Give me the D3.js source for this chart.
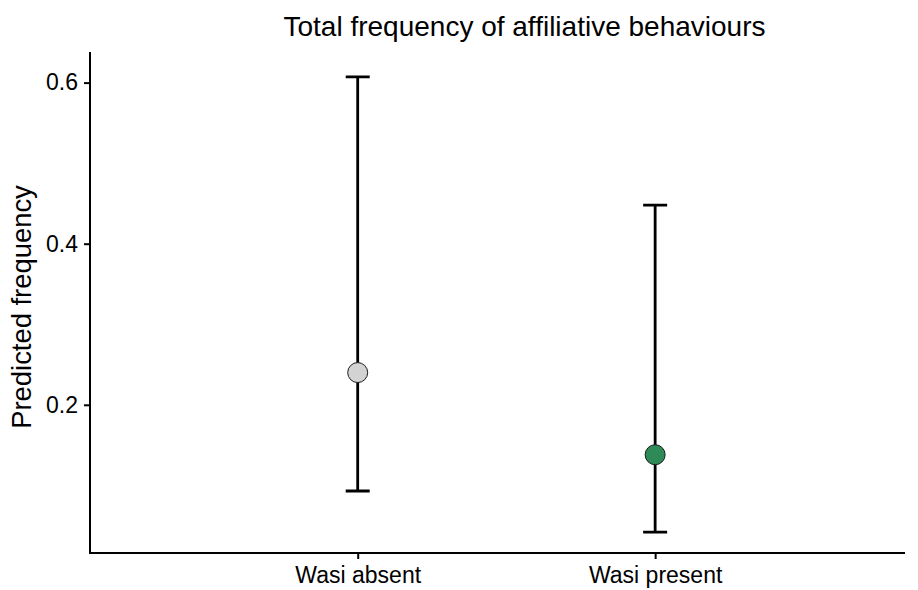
<!DOCTYPE html>
<html>
<head>
<meta charset="utf-8">
<script src="https://cdn.jsdelivr.net/npm/d3@7"></script>
<style>
  body { margin: 0; background: #fff; }
  svg { font-family: "Liberation Sans", Arial, sans-serif; }
</style>
</head>
<body>
<div id="chart"></div>
<script>
// data
const categories = ["Wasi absent", "Wasi present"]
const predicted = [0.240, 0.138]
const lower = [0.093, 0.042]
const upper = [0.607, 0.448]
const fills = ["#d3d3d3", "#2e8b57"]
const yTicks = [0.2, 0.4, 0.6]

const W = 918, H = 590
const margin = {top: 52, right: 13, bottom: 37, left: 90}
const width = W - margin.left - margin.right,
      height = H - margin.top - margin.bottom

const svg = d3.select("#chart")
  .append("svg")
    .attr("width", W)
    .attr("height", H)

const g = svg.append("g")
    .attr("transform", `translate(${margin.left},${margin.top})`)

// x is positional index of each category
const x = d3.scaleLinear()
  .domain([-0.9, 1.84])
  .range([0, width])

const y = d3.scaleLinear()
  .domain([0.016, 0.638])
  .range([height, 0])

// axes
const xAxis = g.append("g")
  .attr("transform", `translate(0,${height})`)
  .call(d3.axisBottom(x).tickValues([0, 1]).tickFormat(i => categories[i]).tickSize(6).tickPadding(8).tickSizeOuter(0))
const yAxis = g.append("g")
  .call(d3.axisLeft(y).tickValues(yTicks).tickFormat(d3.format(".1f")).tickSize(6).tickPadding(6).tickSizeOuter(0))

for (const ax of [xAxis, yAxis]) {
  ax.select(".domain").attr("stroke", "#000").attr("stroke-width", 2)
  ax.selectAll(".tick line").attr("stroke", "#000").attr("stroke-width", 2)
  ax.selectAll(".tick text").attr("fill", "#000").style("font-size", "23px")
    .style("font-family", "Liberation Sans, Arial, sans-serif")
}
// domain lines should meet at the corner
xAxis.select(".domain").attr("d", `M-1,0H${width}`)
yAxis.select(".domain").attr("d", `M0,${height + 1}V0`)

// error bars
const idx = d3.range(categories.length)
const capHalf = 12
g.selectAll(".err")
  .data(idx)
  .join("path")
    .attr("class", "err")
    .attr("fill", "none")
    .attr("stroke", "#000")
    .attr("stroke-width", 2.8)
    .attr("d", i => `M${x(i) - capHalf},${y(upper[i])}H${x(i) + capHalf}`
                  + `M${x(i)},${y(upper[i])}V${y(lower[i])}`
                  + `M${x(i) - capHalf},${y(lower[i])}H${x(i) + capHalf}`)

// points
g.selectAll(".pt")
  .data(idx)
  .join("circle")
    .attr("class", "pt")
    .attr("cx", i => x(i))
    .attr("cy", i => y(predicted[i]))
    .attr("r", 10)
    .attr("fill", i => fills[i])
    .attr("stroke", "#1a1a1a")
    .attr("stroke-width", 1)

// titles
svg.append("text")
  .attr("x", 524.5)
  .attr("y", 36)
  .attr("text-anchor", "middle")
  .style("font-size", "28px")
  .text("Total frequency of affiliative behaviours")

svg.append("text")
  .attr("transform", `translate(31,${307}) rotate(-90)`)
  .attr("text-anchor", "middle")
  .style("font-size", "27.4px")
  .text("Predicted frequency")
</script>
</body>
</html>
